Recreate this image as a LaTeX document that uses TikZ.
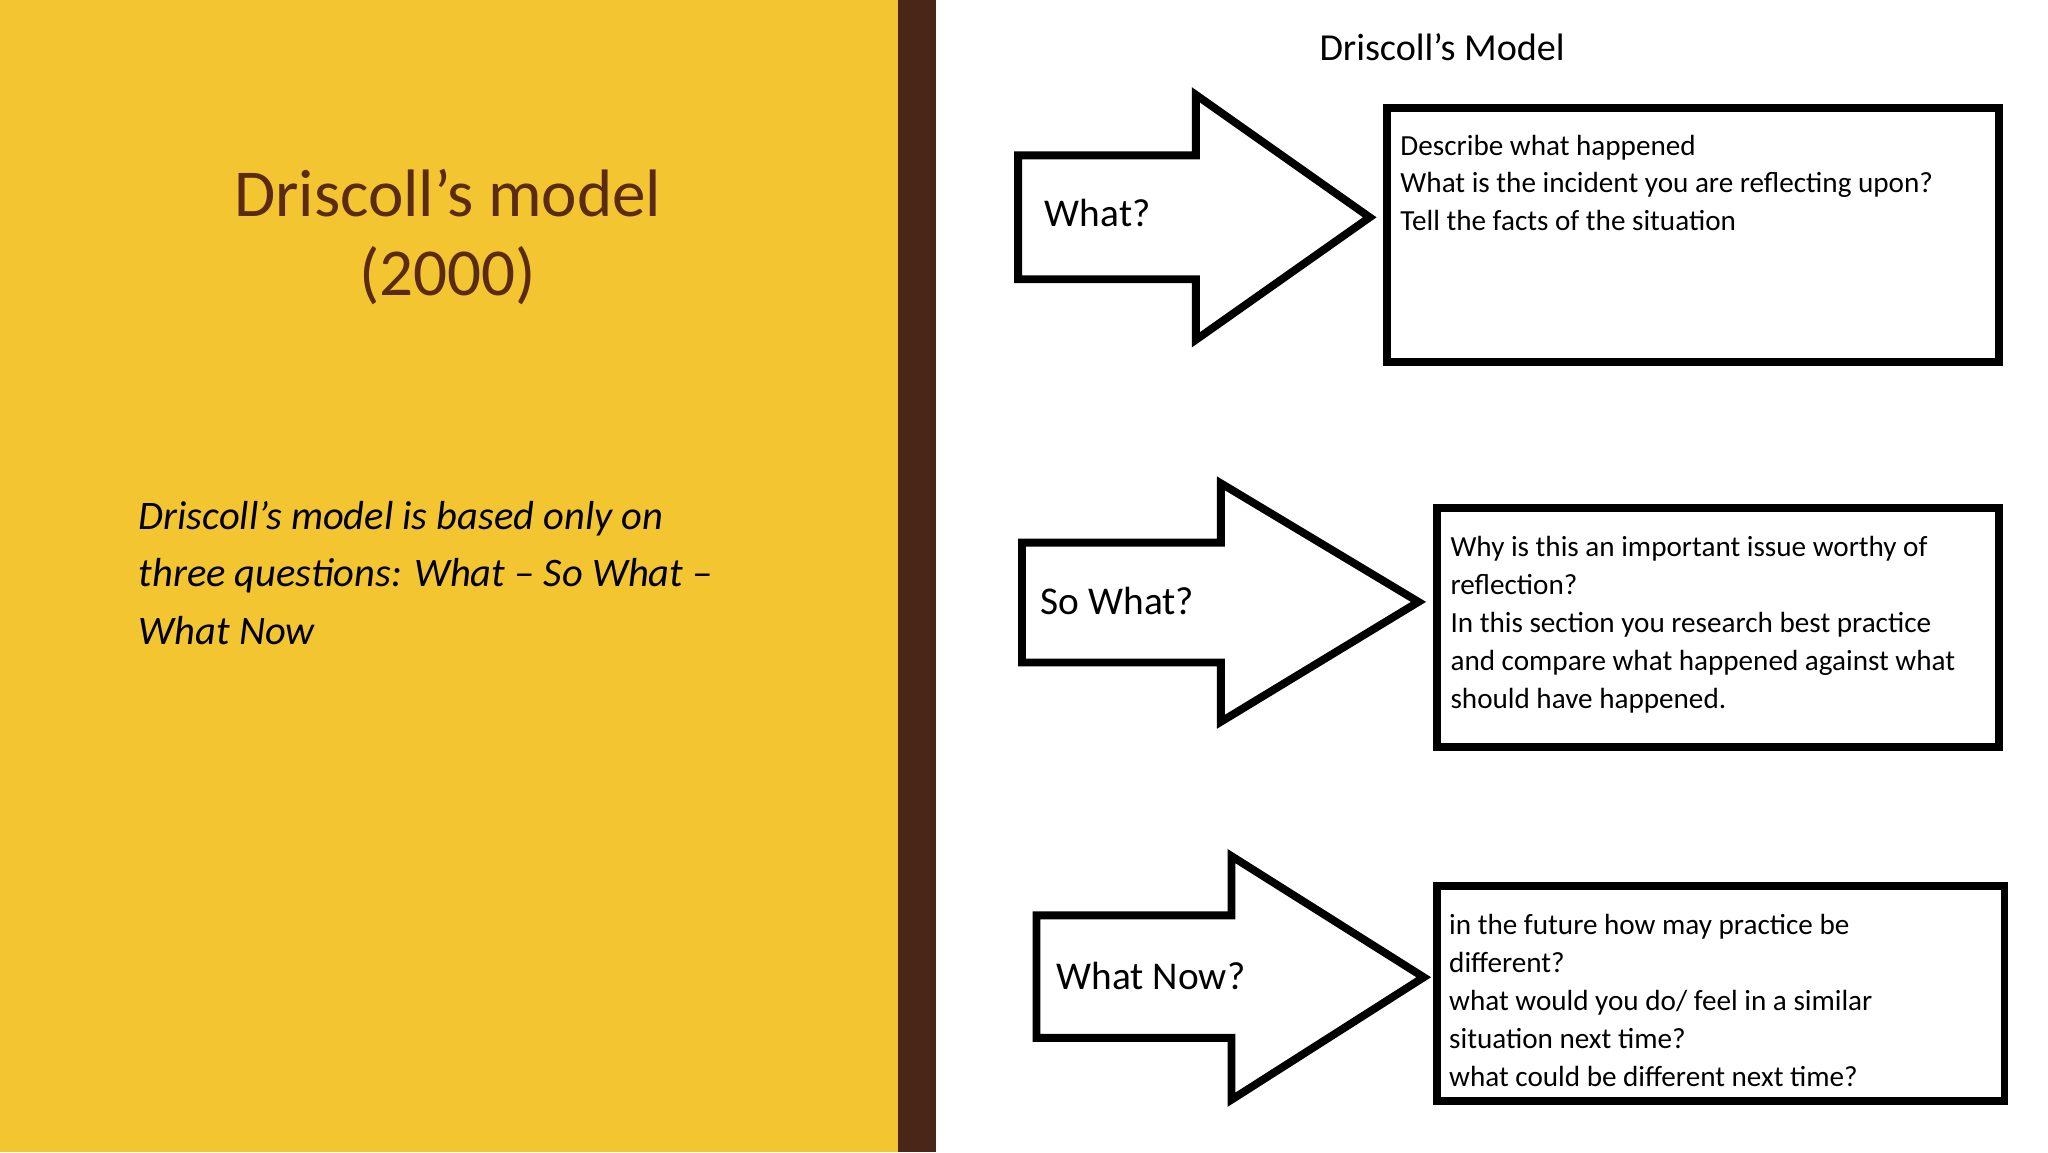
\documentclass[tikz,border=0pt]{standalone}
\usepackage{fontspec}
\setmainfont{Carlito}
\definecolor{ylw}{HTML}{F3C531}
\definecolor{brn}{HTML}{4A2619}
\definecolor{ttl}{HTML}{5A2A12}
\begin{document}
\begin{tikzpicture}[x=0.02cm,y=-0.02cm,
  arr/.style={draw=black,line width=3.4pt,fill=white,line join=miter},
  bx/.style={draw=black,line width=3.4pt,fill=white},
  lbl/.style={anchor=west,font=\fontsize{17}{20}\selectfont,inner sep=0},
  txt/.style={anchor=north west,align=left,inner sep=0,font=\fontsize{12.6}{16.4}\selectfont}]
\useasboundingbox (0,0) rectangle (1555,875);
\fill[ylw] (0,0) rectangle (682,875);
\fill[brn] (682,0) rectangle (711,875);
\node[align=center,text=ttl,font=\fontsize{29}{34}\selectfont] (title) at (340,180) {Driscoll’s model\\(2000)};
\node[anchor=north west,align=left,inner sep=0,font=\itshape\fontsize{17.5}{25}\selectfont] (desc) at (105,380)
 {Driscoll’s model is based only on\\three questions: What -- So What --\\What Now};
\node[font=\fontsize{16.5}{20}\selectfont] (hdr) at (1095,36) {Driscoll's Model};
% arrow 1
\draw[arr] (773,118) -- (908,118) -- (908,72) -- (1040,165) -- (908,258) -- (908,212) -- (773,212) -- cycle;
\node[lbl] (a1) at (793,162) {What?};
\draw[bx] (1053,82) rectangle (1518,275);
\node[txt] (t1) at (1063,102) {Describe what happened\\What is the incident you are reflecting upon?\\Tell the facts of the situation};
% arrow 2
\draw[arr] (776,412) -- (927,412) -- (927,367) -- (1077,457) -- (927,548) -- (927,503) -- (776,503) -- cycle;
\node[lbl] (a2) at (790,456) {So What?};
\draw[bx] (1091,386) rectangle (1518,567);
\node[txt] (t2) at (1101,407) {Why is this an important issue worthy of\\reflection?\\In this section you research best practice\\and compare what happened against what\\should have happened.};
% arrow 3
\draw[arr] (787,695) -- (935,695) -- (935,650) -- (1081,742) -- (935,835) -- (935,788) -- (787,788) -- cycle;
\node[lbl] (a3) at (802,741) {What Now?};
\draw[bx] (1091,673) rectangle (1522,836);
\node[txt] (t3) at (1100,694) {in the future how may practice be\\different?\\what would you do/ feel in a similar\\situation next time?\\what could be different next time?};
\end{tikzpicture}
\end{document}
